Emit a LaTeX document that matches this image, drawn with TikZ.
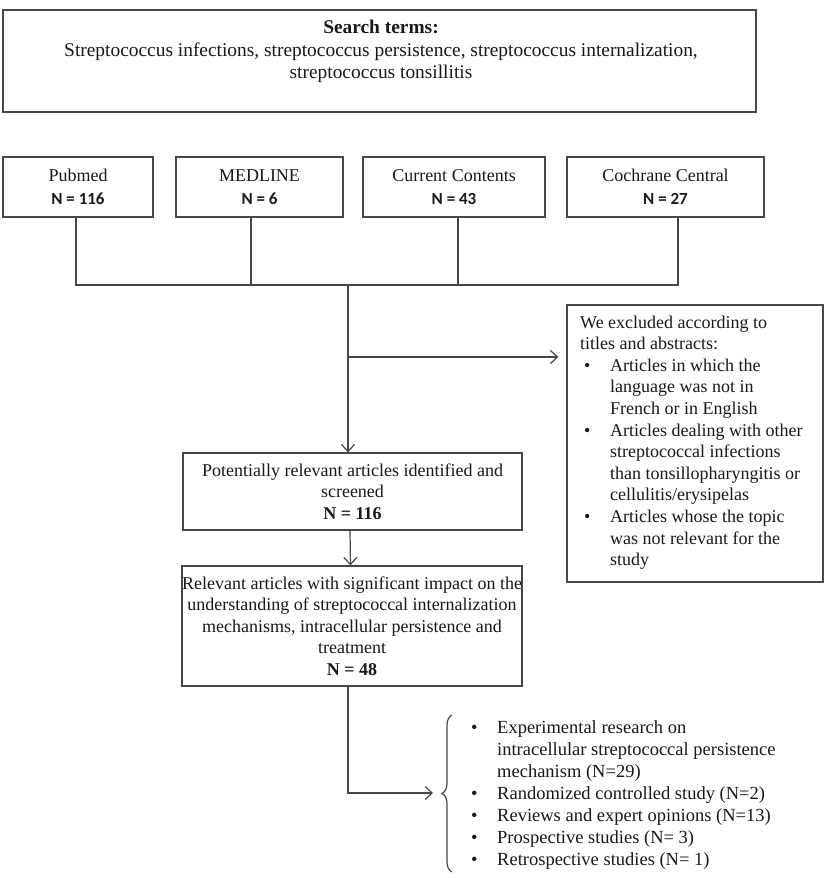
\documentclass[tikz,border=0pt]{standalone}
\usepackage{fontspec}
\setmainfont{Liberation Serif}
\newfontfamily\calibrifont{Carlito}
\usetikzlibrary{arrows.meta,decorations.pathreplacing}
\newcommand{\xbul}{\makebox[30pt][l]{\hspace{4pt}\textbullet}}
\newcommand{\xind}{\hspace*{30pt}}
\begin{document}
\begin{tikzpicture}[x=1pt,y=-1pt,
  box/.style={draw=black!72, line width=1.3pt, rectangle, inner sep=0pt},
  txt/.style={font=\fontsize{18}{21.6}\selectfont, align=center, inner sep=0pt, text=black!90},
  conn/.style={draw=black!72, line width=1.2pt},
  arr/.style={conn, -{Straight Barb[length=7pt,width=13pt,line width=1.2pt]}},
]
\useasboundingbox[fill=white] (0,0) rectangle (829,878);

% search terms
\node[box, minimum width=753pt, minimum height=102pt] (search) at (379.5,61) {};
\node[txt, font=\fontsize{19.4}{22.4}\selectfont, anchor=north] (searchtxt) at (381,20) {\textbf{Search terms:}\\Streptococcus infections, streptococcus persistence, streptococcus internalization,\\streptococcus tonsillitis};

% sources
\node[box, txt, minimum width=150pt, minimum height=60pt] (pubmed) at (78,187) {Pubmed\\[1pt]{\calibrifont\bfseries\fontsize{17}{20}\selectfont N = 116}};
\node[box, txt, minimum width=167pt, minimum height=60pt] (medline) at (259.5,187) {MEDLINE\\[1pt]{\calibrifont\bfseries\fontsize{17}{20}\selectfont N = 6}};
\node[box, txt, minimum width=182pt, minimum height=60pt] (cc) at (454,187) {Current Contents\\[1pt]{\calibrifont\bfseries\fontsize{17}{20}\selectfont N = 43}};
\node[box, txt, minimum width=197pt, minimum height=60pt] (cochrane) at (665.5,187) {Cochrane Central\\[1pt]{\calibrifont\bfseries\fontsize{17}{20}\selectfont N = 27}};

\coordinate (bus) at (348,285);
\draw[conn] ([xshift=-2pt]pubmed.south) |- (bus);
\draw[conn] ([xshift=12.5pt]cochrane.south) |- (bus);
\draw[conn] ([xshift=-8.5pt]medline.south) -- ([xshift=-8.5pt]medline.south |- bus);
\draw[conn] ([xshift=4pt]cc.south) -- ([xshift=4pt]cc.south |- bus);

% screened
\node[box, txt, minimum width=339pt, minimum height=77pt] (screened) at (352.5,491.5) {Potentially relevant articles identified and\\screened\\\textbf{N = 116}};

% exclusion
\node[box, minimum width=256pt, minimum height=277pt] (excl) at (695,443.5) {};
\node[txt, align=left, anchor=north west] (excltxt) at (580,315.5) {We excluded according to\\titles and abstracts:\\\xbul Articles in which the\\\xind language was not in\\\xind French or in English\\\xbul Articles dealing with other\\\xind streptococcal infections\\\xind than tonsillopharyngitis or\\\xind cellulitis/erysipelas\\\xbul Articles whose the topic\\\xind was not relevant for the\\\xind study};

\draw[arr] (bus) -- (bus |- screened.north);
\coordinate (split) at (348,357);
\draw[arr, shorten >=8pt] (split) -- (split -| excl.west);

% relevant
\node[box, txt, minimum width=340pt, minimum height=120pt] (relevant) at (352,626) {Relevant articles with significant impact on the\\understanding of streptococcal internalization\\mechanisms, intracellular persistence and\\treatment\\\textbf{N = 48}};
\draw[arr] ([xshift=-2.5pt]screened.south) -- ([xshift=-2pt]screened.south |- relevant.north);

% results
\coordinate (bracetip) at (441,793);
\draw[conn, decorate, decoration={brace, amplitude=10pt, aspect=0.5}] (452,872) -- (452,715);
\draw[arr, shorten >=8pt] ([xshift=-4pt]relevant.south) |- (bracetip);
\node[txt, font=\fontsize{18.5}{22}\selectfont, align=left, anchor=north west] (results) at (467,720.5) {\xbul Experimental research on\\\xind intracellular streptococcal persistence\\\xind mechanism (N=29)\\\xbul Randomized controlled study (N=2)\\\xbul Reviews and expert opinions (N=13)\\\xbul Prospective studies (N= 3)\\\xbul Retrospective studies (N= 1)};
\end{tikzpicture}
\end{document}
